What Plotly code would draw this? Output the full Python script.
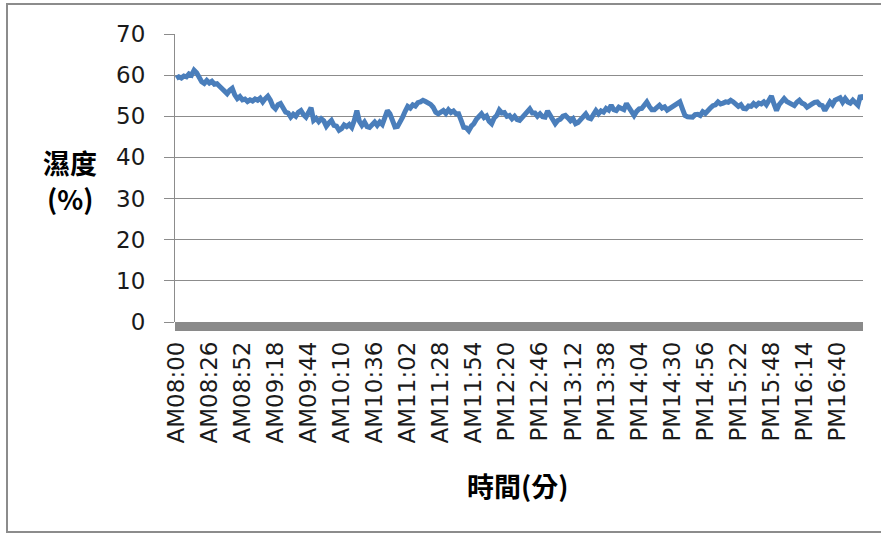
import plotly.graph_objects as go

# humidity readings every 2 minutes starting AM08:00 (minutes since 08:00)
minutes = list(range(0, 541, 2))
humidity = [
    59.2, 59.6, 59.3, 59.8, 59.6, 60.3, 60.0, 61.2, 60.6, 59.4, 58.4,
    58.0, 58.7, 58.1, 58.5, 57.8, 57.9, 57.3, 56.8, 56.1, 55.5,
    56.3, 56.8, 55.2, 54.3, 54.8, 54.0, 54.2, 53.6, 54.0, 53.7,
    54.2, 53.9, 54.4, 53.5, 54.3, 54.9, 53.9, 52.4, 51.8, 52.8,
    53.1, 51.7, 51.0, 50.8, 49.8, 50.5, 50.0, 51.0, 51.4, 50.4,
    49.8, 50.9, 52.1, 49.0, 49.5, 48.7, 49.4, 48.9, 47.6, 48.4,
    49.0, 47.8, 47.6, 46.6, 47.0, 47.9, 47.5, 48.0, 47.3, 49.0,
    51.4, 48.8, 47.8, 48.6, 47.5, 47.3, 48.2, 48.6, 47.8, 48.6,
    48.0, 49.8, 51.4, 50.6, 48.8, 47.4, 47.5, 49.0, 49.8, 51.2,
    52.4, 52.0, 52.8, 52.5, 53.3, 53.5, 53.9, 53.6, 53.4, 52.9,
    52.2, 51.0, 50.6, 51.1, 51.4, 50.7, 51.6, 50.9, 51.3, 50.6,
    50.6, 49.0, 47.3, 47.2, 46.5, 47.6, 48.2, 49.3, 50.0, 50.6,
    49.7, 50.1, 48.8, 48.2, 49.6, 50.2, 51.5, 50.8, 50.9, 50.0,
    50.2, 49.4, 50.0, 49.2, 49.0, 49.8, 50.3, 51.4, 51.8, 50.8,
    50.8, 50.0, 50.6, 49.9, 49.8, 51.3, 50.2, 49.0, 48.2, 49.0,
    49.3, 50.0, 50.2, 49.6, 48.9, 49.4, 48.2, 48.5, 49.2, 49.6,
    50.6, 49.6, 49.4, 50.4, 51.4, 50.6, 51.3, 51.0, 51.9, 51.5,
    52.7, 51.6, 51.4, 52.2, 52.0, 51.6, 53.1, 52.0, 51.0, 50.2,
    51.2, 51.8, 51.9, 52.6, 53.5, 52.4, 51.6, 51.6, 52.3, 52.7,
    52.0, 52.3, 51.5, 51.9, 52.2, 52.8, 52.9, 53.5, 51.8, 50.2,
    49.9, 50.0, 49.8, 50.4, 50.5, 50.2, 51.1, 50.7, 51.5, 52.0,
    52.6, 52.8, 53.5, 53.0, 53.2, 53.5, 53.4, 53.9, 53.5, 52.9,
    52.4, 52.8, 51.9, 51.8, 52.5, 52.4, 53.1, 52.6, 53.2, 53.0,
    53.5, 52.8, 53.8, 54.9, 53.0, 51.4, 52.8, 53.8, 54.3, 53.6,
    53.3, 53.0, 52.6, 53.4, 53.9, 53.2, 52.9, 52.2, 52.8, 53.0,
    53.4, 53.5, 52.8, 52.6, 51.4, 52.4, 53.5, 52.8, 53.9, 54.2,
    54.5, 53.4, 54.3, 53.5, 53.2, 53.9, 53.3, 52.7, 55.1, 54.0,
]

tick_minutes = [0, 26, 52, 78, 104, 130, 156, 182, 208, 234, 260,
                286, 312, 338, 364, 390, 416, 442, 468, 494, 520]
tick_labels = ["AM08:00", "AM08:26", "AM08:52", "AM09:18", "AM09:44",
               "AM10:10", "AM10:36", "AM11:02", "AM11:28", "AM11:54",
               "PM12:20", "PM12:46", "PM13:12", "PM13:38", "PM14:04",
               "PM14:30", "PM14:56", "PM15:22", "PM15:48", "PM16:14",
               "PM16:40"]
y_ticks = [0, 10, 20, 30, 40, 50, 60, 70]

W, H = 881, 534
ML, MR, MT, MB = 175, 18, 34, 212
pw, ph = W - ML - MR, H - MT - MB

fig = go.Figure()
fig.add_trace(go.Scatter(
    x=minutes, y=humidity, mode="lines",
    line=dict(color="#4A7EBB", width=5),
    hoverinfo="skip", showlegend=False,
))

grid = "#8C8C8C"
tick_font = dict(family="DejaVu Sans", size=23, color="#1a1a1a")
fig.update_layout(
    width=W, height=H,
    margin=dict(l=ML, r=MR, t=MT, b=MB),
    paper_bgcolor="white", plot_bgcolor="white",
    font=tick_font,
    xaxis=dict(
        range=[-1, 540], tickmode="array", tickvals=tick_minutes,
        ticktext=tick_labels, tickangle=-90, showgrid=False,
        zeroline=False, showline=False, ticks="", ticklabelstandoff=14,
        tickfont=tick_font,
    ),
    yaxis=dict(
        range=[0, 70], tickmode="array", tickvals=y_ticks,
        showgrid=True, gridcolor=grid, gridwidth=1,
        zeroline=False, showline=True, linecolor=grid, linewidth=1,
        ticks="outside", ticklen=10, tickcolor=grid, ticklabelstandoff=14,
        tickfont=tick_font,
    ),
)

# thick gray floor band under the horizontal axis
fig.add_shape(type="rect", xref="x domain", yref="y domain",
              x0=0, x1=1, y0=-9, y1=0, ysizemode="pixel", yanchor=0,
              line=dict(width=0), fillcolor="#8A8A8A", layer="above")

# chart outer border
fig.add_shape(type="rect", xref="paper", yref="paper",
              x0=(7 - ML) / pw, x1=(890 - ML) / pw,
              y0=-(532 - MT - ph) / ph, y1=(H - MB - 4) / ph,
              line=dict(color="#8C8C8C", width=2), fillcolor="rgba(0,0,0,0)")

title_font = dict(family="Noto Sans CJK TC", size=27, color="black")
for txt, cx, cy in [("<b>濕度</b>", 70, 162), ("<b>(%)</b>", 70, 198),
                    ("<b>時間(分)</b>", 517, 485)]:
    fig.add_annotation(text=txt, xref="paper", yref="paper",
                       x=(cx - ML) / pw, y=(H - MB - cy) / ph,
                       xanchor="center", yanchor="middle",
                       showarrow=False, font=title_font)

fig.write_html("out.html", config={"displayModeBar": False},
               post_script="document.body.style.margin='0';")
